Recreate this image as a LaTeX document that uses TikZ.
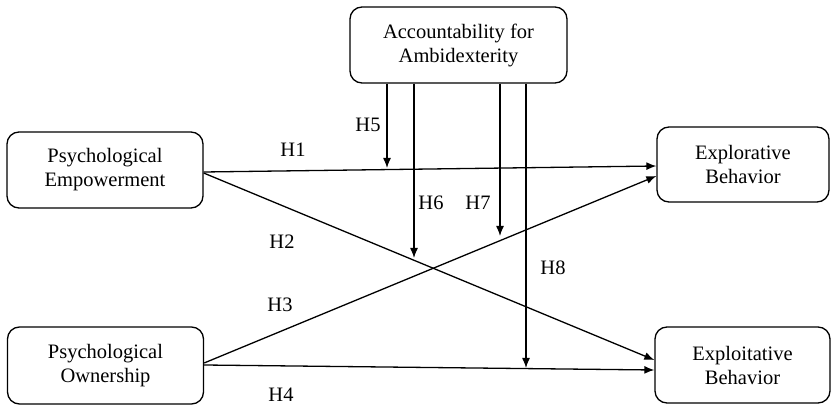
\documentclass[tikz,border=0pt]{standalone}
\usepackage{fontspec}
\setmainfont{Liberation Serif}
\usetikzlibrary{arrows.meta}

\begin{document}
\begin{tikzpicture}[x=1pt, y=-1pt, line width=1.3pt, >={Latex[length=10pt,width=8pt]},
    main/.style = {draw, rounded corners=12pt, align=center, inner sep=0pt, font=\fontsize{20.5}{24}\selectfont},
    lbl/.style = {font=\fontsize{20.5}{24}\selectfont}]
		\useasboundingbox (0,0) rectangle (831,406);
		\node[main, minimum width=217pt, minimum height=76pt] (acc) at (458.5,45) {Accountability for\\Ambidexterity};
		\node[main, minimum width=196pt, minimum height=76pt] (pe) at (105,170) {Psychological\\Empowerment};
		\node[main, minimum width=196pt, minimum height=77pt] (po) at (105.5,365.5) {Psychological\\Ownership};
		\node[main, minimum width=172pt, minimum height=75pt] (ep) at (743,164.5) {Explorative\\Behavior};
		\node[main, minimum width=175pt, minimum height=76pt] (xp) at (742.5,365) {Exploitative\\Behavior};
		\coordinate (m5) at (387,168);
		\coordinate (m6) at (414,258);
		\coordinate (m7) at (500,236);
		\coordinate (m8) at (526,368);
		\draw[->] ([yshift=-2pt]pe.east) -- ([yshift=-1.5pt]ep.west);
		\draw[->] ([yshift=-3pt]pe.east) -- ([yshift=5pt]xp.west);
		\draw[->] ([yshift=2.5pt]po.east) -- ([yshift=-11.5pt]ep.west);
		\draw[->] ([yshift=0.5pt]po.east) -- ([yshift=-5pt]xp.west);
		\draw[->] (acc.south -| m5) -- (m5);
		\draw[->] (acc.south -| m6) -- (m6);
		\draw[->] (acc.south -| m7) -- (m7);
		\draw[->] (acc.south -| m8) -- (m8);
		\node[lbl] (h1) at (293,150) {H1};
		\node[lbl] (h2) at (282,242) {H2};
		\node[lbl] (h3) at (280,305) {H3};
		\node[lbl] (h4) at (281,395) {H4};
		\node[lbl] (h5) at (368,125) {H5};
		\node[lbl] (h6) at (431,203) {H6};
		\node[lbl] (h7) at (478,203) {H7};
		\node[lbl] (h8) at (553,268) {H8};
\end{tikzpicture}
\end{document}
